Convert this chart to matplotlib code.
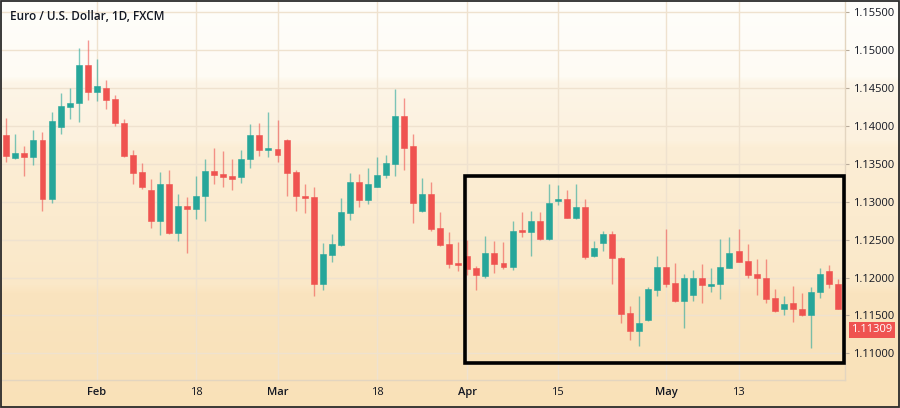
import matplotlib
matplotlib.use("Agg")
import matplotlib.pyplot as plt
import matplotlib.transforms as mtransforms
from matplotlib.patches import Rectangle
import numpy as np
import pandas as pd

# ---------------- data ----------------
dates = pd.bdate_range("2019-01-18", periods=93)

opens = [1.1388, 1.1358, 1.1364, 1.1359, 1.1381, 1.1304, 1.1399, 1.1425, 1.1430, 1.1480,
         1.1445, 1.1450, 1.1436, 1.1404, 1.1362, 1.1339, 1.1316, 1.1275, 1.1323, 1.1259,
         1.1294, 1.1291, 1.1308, 1.1341, 1.1336, 1.1334, 1.1333, 1.1356, 1.1388, 1.1368,
         1.1370, 1.1382, 1.1339, 1.1308, 1.1306, 1.1192, 1.1230, 1.1243, 1.1285, 1.1326,
         1.1302, 1.1320, 1.1335, 1.1350, 1.1413, 1.1373, 1.1288, 1.1310, 1.1265, 1.1244,
         1.1219, 1.1228, 1.1212, 1.1202, 1.1232, 1.1219, 1.1214, 1.1263, 1.1260, 1.1274,
         1.1251, 1.1301, 1.1304, 1.1279, 1.1293, 1.1228, 1.1245, 1.1257, 1.1226, 1.1153,
         1.1130, 1.1144, 1.1184, 1.1214, 1.1193, 1.1169, 1.1177, 1.1199, 1.1189, 1.1191,
         1.1213, 1.1235, 1.1222, 1.1204, 1.1200, 1.1173, 1.1159, 1.1166, 1.1158, 1.1150,
         1.1181, 1.1209, 1.1192]
highs = [1.1410, 1.1390, 1.1374, 1.1395, 1.1392, 1.1418, 1.1444, 1.1450, 1.1503, 1.1514,
         1.1488, 1.1461, 1.1441, 1.1409, 1.1368, 1.1351, 1.1330, 1.1339, 1.1342, 1.1310,
         1.1306, 1.1334, 1.1357, 1.1371, 1.1367, 1.1356, 1.1368, 1.1403, 1.1404, 1.1419,
         1.1408, 1.1383, 1.1342, 1.1324, 1.1320, 1.1246, 1.1258, 1.1305, 1.1338, 1.1336,
         1.1344, 1.1359, 1.1362, 1.1449, 1.1437, 1.1390, 1.1331, 1.1326, 1.1286, 1.1260,
         1.1247, 1.1250, 1.1215, 1.1255, 1.1248, 1.1247, 1.1274, 1.1286, 1.1288, 1.1287,
         1.1324, 1.1322, 1.1315, 1.1324, 1.1304, 1.1248, 1.1262, 1.1261, 1.1227, 1.1162,
         1.1175, 1.1187, 1.1228, 1.1264, 1.1219, 1.1205, 1.1210, 1.1218, 1.1213, 1.1251,
         1.1253, 1.1264, 1.1244, 1.1225, 1.1224, 1.1185, 1.1176, 1.1189, 1.1180, 1.1187,
         1.1212, 1.1216, 1.1198]
lows = [1.1353, 1.1356, 1.1334, 1.1349, 1.1288, 1.1299, 1.1389, 1.1409, 1.1405, 1.1434,
        1.1433, 1.1422, 1.1400, 1.1359, 1.1323, 1.1317, 1.1266, 1.1256, 1.1258, 1.1248,
        1.1233, 1.1277, 1.1274, 1.1324, 1.1319, 1.1315, 1.1325, 1.1344, 1.1361, 1.1359,
        1.1353, 1.1308, 1.1288, 1.1285, 1.1176, 1.1184, 1.1221, 1.1242, 1.1276, 1.1293,
        1.1297, 1.1319, 1.1331, 1.1334, 1.1342, 1.1272, 1.1287, 1.1262, 1.1241, 1.1212,
        1.1209, 1.1203, 1.1183, 1.1199, 1.1206, 1.1211, 1.1210, 1.1254, 1.1228, 1.1250,
        1.1250, 1.1296, 1.1278, 1.1277, 1.1225, 1.1227, 1.1235, 1.1191, 1.1140, 1.1118,
        1.1109, 1.1143, 1.1175, 1.1187, 1.1168, 1.1134, 1.1169, 1.1166, 1.1181, 1.1172,
        1.1212, 1.1220, 1.1200, 1.1177, 1.1166, 1.1154, 1.1150, 1.1141, 1.1149, 1.1107,
        1.1173, 1.1186, 1.1159]
closes = [1.1361, 1.1364, 1.1359, 1.1381, 1.1304, 1.1406, 1.1426, 1.1431, 1.1480, 1.1445,
          1.1453, 1.1434, 1.1404, 1.1360, 1.1338, 1.1319, 1.1275, 1.1323, 1.1259, 1.1294,
          1.1290, 1.1308, 1.1341, 1.1335, 1.1333, 1.1330, 1.1357, 1.1388, 1.1368, 1.1371,
          1.1362, 1.1338, 1.1307, 1.1305, 1.1192, 1.1231, 1.1244, 1.1286, 1.1326, 1.1302,
          1.1323, 1.1335, 1.1351, 1.1413, 1.1371, 1.1299, 1.1310, 1.1264, 1.1243, 1.1218,
          1.1216, 1.1211, 1.1203, 1.1232, 1.1218, 1.1214, 1.1262, 1.1260, 1.1274, 1.1251,
          1.1299, 1.1304, 1.1279, 1.1293, 1.1227, 1.1239, 1.1257, 1.1226, 1.1152, 1.1130,
          1.1140, 1.1185, 1.1214, 1.1192, 1.1169, 1.1200, 1.1199, 1.1190, 1.1191, 1.1214,
          1.1232, 1.1221, 1.1203, 1.1200, 1.1172, 1.1156, 1.1165, 1.1158, 1.1150, 1.1181,
          1.1204, 1.1192, 1.1159]

last_price = 1.11309
price_ticks = [1.110, 1.115, 1.120, 1.125, 1.130, 1.135, 1.140, 1.145, 1.150, 1.155]
date_tick_dates = ["2019-02-01", "2019-02-18", "2019-03-01", "2019-03-18",
                   "2019-04-01", "2019-04-15", "2019-05-01", "2019-05-13"]
date_tick_labels = ["Feb", "18", "Mar", "18", "Apr", "15", "May", "13"]
title = "Euro / U.S. Dollar, 1D, FXCM"
# highlighted range: from 2019-03-29/04-01 to end, price window
box_x = (40.7, 82.7)
box_y = (1.10867, 1.13340)

UP = "#26a69a"
DOWN = "#ef5350"
TXT = "#131722"

# ---------------- figure ----------------
W, H = 900, 408
fig = plt.figure(figsize=(W / 100, H / 100), dpi=100)

# background gradient over the whole image
stops_y = [0, 76, 82, 140, 146, 284, 292, 408]
stops_c = [(255, 254, 251), (254, 251, 244), (253, 245, 231), (252, 241, 222),
           (252, 238, 214), (250, 232, 200), (250, 228, 191), (249, 225, 184)]
yy = np.arange(H)
grad = np.zeros((H, 1, 3))
for k in range(3):
    grad[:, 0, k] = np.interp(yy, stops_y, [c[k] for c in stops_c]) / 255.0
bg = fig.add_axes([0, 0, 1, 1], zorder=-10)
bg.imshow(grad, aspect="auto", extent=[0, 1, 0, 1], origin="upper")
bg.set_axis_off()

left_px, right_px, top_px, bot_px = 2, 845, 2, 380
ax = fig.add_axes([left_px / W, (H - bot_px) / H, (right_px - left_px) / W, (bot_px - top_px) / H])
ax.set_facecolor("none")

n = len(opens)
x0 = -10  # index of first bar relative to Feb 1
idx = np.arange(n) + x0
date_pos = {d: i for d, i in zip(dates.strftime("%Y-%m-%d"), idx)}

ax.set_xlim(-10.48, 82.78)
ax.set_ylim(1.10647, 1.15637)

# grid
for p in price_ticks:
    ax.axhline(p, color="#efe2cf", lw=1.0, zorder=0)
tick_x = [date_pos[d] for d in date_tick_dates]
for t in tick_x:
    ax.axvline(t, color="#efe2cf", lw=1.0, zorder=0)

# candles
bw = 0.66
for xi, o, h, l, c in zip(idx, opens, highs, lows, closes):
    col = UP if c >= o else DOWN
    ax.vlines(xi, l, h, color=col, lw=1.0, alpha=0.6, zorder=2)
    bot = min(o, c)
    hgt = max(abs(c - o), 0.00012)
    ax.add_patch(Rectangle((xi - bw / 2, bot), bw, hgt, facecolor=col, edgecolor=col,
                           lw=0.4, zorder=3))

# highlight rectangle
ax.add_patch(Rectangle((box_x[0], box_y[0]), box_x[1] - box_x[0], box_y[1] - box_y[0],
                       fill=False, edgecolor="black", lw=2.6, zorder=6, clip_on=False))

# axes styling
for s in ["top", "left"]:
    ax.spines[s].set_visible(False)
for s in ["right", "bottom"]:
    ax.spines[s].set_color("#e3d5c0")
    ax.spines[s].set_linewidth(1.0)

ax.yaxis.tick_right()
ax.set_yticks(price_ticks)
ax.set_yticklabels([f"{p:.5f}" for p in price_ticks])
ax.tick_params(axis="y", length=3, width=0.8, color="#b8ab9a", pad=3,
               labelsize=8, labelcolor=TXT)
ax.set_xticks(tick_x)
ax.set_xticklabels(date_tick_labels)
ax.tick_params(axis="x", length=0, pad=5, labelsize=8, labelcolor=TXT)
for lab, txt in zip(ax.get_xticklabels(), date_tick_labels):
    lab.set_fontfamily("Open Sans")
    if not txt.isdigit():
        lab.set_fontweight("semibold")
for lab in ax.get_yticklabels():
    lab.set_fontfamily("Open Sans")

# last price label
trans = mtransforms.blended_transform_factory(ax.transAxes, ax.transData)
ax.text(1.0 + 6 / (right_px - left_px), last_price, f"{last_price:.5f}", transform=trans,
        va="center", ha="left", color="white", fontsize=8, family="Open Sans",
        bbox=dict(boxstyle="square,pad=0.22", fc=DOWN, ec="none"), zorder=10, clip_on=False)

# title
fig.text(10 / W, 1 - 16 / H, title, ha="left", va="center", fontsize=8.5,
         family="Open Sans", color=TXT, fontweight="semibold")

# outer border
fig.patches.append(Rectangle((0.0008, 0.002), 0.9984, 0.996, transform=fig.transFigure,
                             fill=False, edgecolor="#2b2b2b", lw=1.3))

fig.savefig("out.png", dpi=100)
